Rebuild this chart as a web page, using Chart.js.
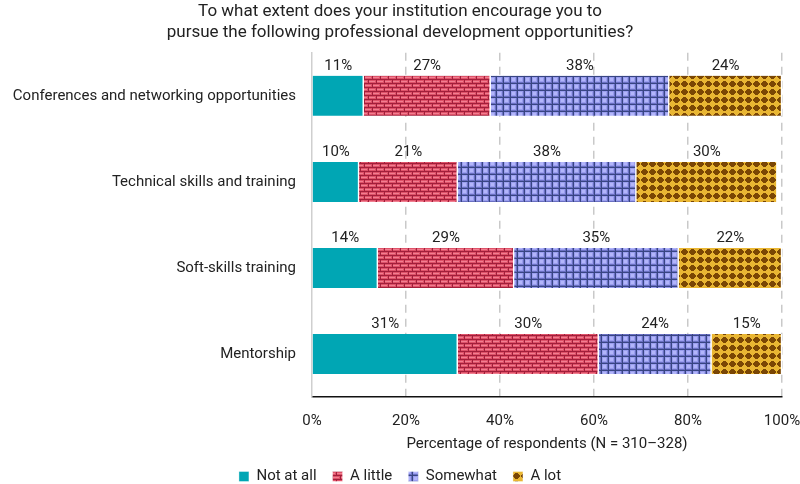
<!DOCTYPE html>
<html>
<head>
<meta charset="utf-8">
<script src="https://cdn.jsdelivr.net/npm/chart.js@4"></script>
<style>
  html, body { margin: 0; padding: 0; background: #fff; }
  #wrap { width: 800px; height: 484px; }
</style>
</head>
<body>
<div id="wrap"><canvas id="chart"></canvas></div>
<script>
var categories = [
    'Conferences and networking opportunities',
    'Technical skills and training',
    'Soft-skills training',
    'Mentorship'
];
var seriesNames = ['Not at all', 'A little', 'Somewhat', 'A lot'];
var notAtAll = [11, 10, 14, 31];
var aLittle = [27, 21, 29, 30];
var somewhat = [38, 38, 35, 24];
var aLot = [24, 30, 22, 15];
var xTicks = [0, 20, 40, 60, 80, 100];

function makeTile(w, h, paint) {
    var c = document.createElement('canvas');
    c.width = w;
    c.height = h;
    var g = c.getContext('2d');
    paint(g);
    return document.getElementById('chart').getContext('2d').createPattern(c, 'repeat');
}

// brick pattern for "A little"
var brick = makeTile(8, 8, function(g) {
    g.fillStyle = '#df5269';
    g.fillRect(0, 0, 8, 8);
    g.fillStyle = '#f07f91';
    g.fillRect(1, 1, 6, 1);
    g.fillRect(5, 5, 3, 1);
    g.fillRect(0, 5, 3, 1);
    g.fillStyle = '#a11f3b';
    g.fillRect(0, 3, 8, 1);
    g.fillRect(0, 7, 8, 1);
    g.fillRect(0, 0, 1, 3);
    g.fillRect(4, 4, 1, 3);
});

// grid pattern for "Somewhat"
var grid = makeTile(7, 7, function(g) {
    g.fillStyle = '#9a9eef';
    g.fillRect(0, 0, 7, 7);
    g.fillStyle = '#b2b5fa';
    g.fillRect(1, 1, 3, 3);
    g.fillStyle = '#6a70c2';
    g.fillRect(5, 0, 1, 7);
    g.fillRect(0, 5, 7, 1);
    g.fillStyle = '#384583';
    g.fillRect(6, 0, 1, 7);
    g.fillRect(0, 6, 7, 1);
});

// dotted pattern for "A lot"
var dots = makeTile(8, 8, function(g) {
    g.fillStyle = '#e9b633';
    g.fillRect(0, 0, 8, 8);
    g.fillStyle = '#7a4604';
    g.fillRect(3, 1, 3, 6);
    g.fillRect(2, 2, 5, 4);
    g.fillRect(1, 3, 7, 2);
});

Chart.defaults.font.family = 'Roboto';
Chart.defaults.font.size = 15;
Chart.defaults.color = '#222';

var barLabels = {
    id: 'barLabels',
    afterDatasetsDraw: function(chart) {
        var ctx = chart.ctx;
        ctx.save();
        ctx.font = '15px Roboto';
        ctx.fillStyle = '#222';
        ctx.textAlign = 'center';
        ctx.textBaseline = 'middle';
        chart.data.datasets.forEach(function(ds, i) {
            chart.getDatasetMeta(i).data.forEach(function(bar, j) {
                var cx = (bar.x + bar.base) / 2;
                var top = bar.y - bar.height / 2;
                ctx.fillText(ds.data[j] + '%', cx, top - 10);
            });
        });
        ctx.restore();
    }
};

function ds(label, values, fill) {
    return {
        label: label,
        data: values,
        backgroundColor: fill,
        borderColor: '#ffffff',
        borderWidth: {left: 0, right: 1.5, top: 0, bottom: 0},
        borderSkipped: false,
        barThickness: 40
    };
}

new Chart(document.getElementById('chart'), {
    type: 'bar',
    data: {
        labels: categories,
        datasets: [
            ds(seriesNames[0], notAtAll, '#00a6b4'),
            ds(seriesNames[1], aLittle, brick),
            ds(seriesNames[2], somewhat, grid),
            ds(seriesNames[3], aLot, dots)
        ]
    },
    options: {
        indexAxis: 'y',
        responsive: true,
        maintainAspectRatio: false,
        animation: false,
        layout: {padding: {left: 0, right: 0, top: 0, bottom: -10}},
        scales: {
            x: {
                stacked: true,
                min: 0,
                max: 100,
                afterBuildTicks: function(scale) {
                    scale.ticks = xTicks.map(function(v) { return {value: v}; });
                },
                afterFit: function(scale) { scale.paddingRight = 18; },
                ticks: {
                    padding: 15,
                    callback: function(v) { return v + '%'; }
                },
                grid: {
                    drawTicks: false,
                    lineWidth: 1.5,
                    color: function(c) { return c.tick && c.tick.value === 0 ? 'rgba(0,0,0,0)' : '#c9c9c9'; }
                },
                border: {color: '#111', width: 1.5, dash: [8, 6]},
                title: {
                    display: true,
                    text: 'Percentage of respondents (N = 310\u2013328)',
                    padding: {top: -10, bottom: 0}
                }
            },
            y: {
                stacked: true,
                afterFit: function(scale) { scale.width = 312; },
                ticks: {padding: 16},
                grid: {display: false, drawTicks: false},
                border: {color: '#cfcfcf', width: 1.5}
            }
        },
        plugins: {
            title: {
                display: true,
                text: ['To what extent does your institution encourage you to',
                       'pursue the following professional development opportunities?'],
                font: {size: 17, weight: 'normal', lineHeight: 1.2},
                color: '#222',
                padding: {top: 2, bottom: 10}
            },
            legend: {
                position: 'bottom',
                labels: {
                    boxWidth: 10,
                    boxHeight: 10,
                    padding: 16,
                    font: {size: 15}
                }
            },
            tooltip: {enabled: false}
        }
    },
    plugins: [barLabels]
});
</script>
</body>
</html>
